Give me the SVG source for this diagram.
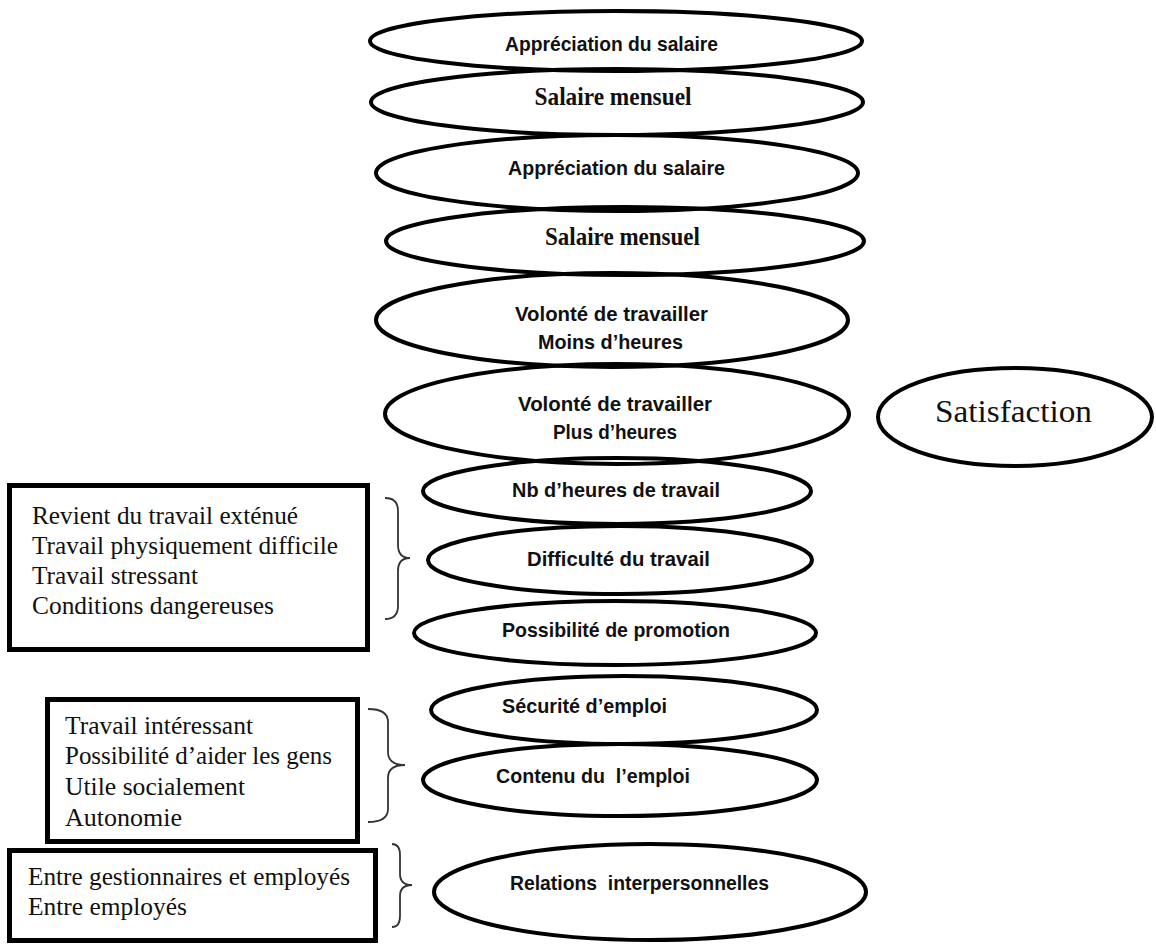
<svg xmlns="http://www.w3.org/2000/svg" width="1156" height="945" viewBox="0 0 1156 945">
<style>
.el{fill:none;stroke:#000;stroke-width:4}
.bx{fill:none;stroke:#000;stroke-width:5}
.br{fill:none;stroke:#333;stroke-width:1.8}
.ts{font-family:"Liberation Sans",Arial,sans-serif;font-weight:bold;font-size:21px;fill:#111;text-anchor:middle}
.tb{font-family:"Liberation Serif","Times New Roman",serif;font-weight:bold;font-size:25px;fill:#111;text-anchor:middle}
.tr{font-family:"Liberation Serif","Times New Roman",serif;font-size:25px;fill:#111}
.tsat{font-family:"Liberation Serif","Times New Roman",serif;font-size:32px;fill:#111;text-anchor:middle}
</style>
<rect width="1156" height="945" fill="#fff"/>
<g id="connectors">
<path class="br" d="M385,498 Q398,498 398,511 L398,545 Q398,558 410,558 Q398,558 398,571 L398,606 Q398,619 385,619"/>
<path class="br" d="M368,709 Q388,709 388,722 L388,752 Q388,765 405,765 Q388,765 388,778 L388,809 Q388,822 368,822"/>
<path class="br" d="M392,844 Q400,844 400,855 L400,874 Q400,885 412,885 Q400,885 400,896 L400,916 Q400,927 392,927"/>
</g>
<g id="n1"><ellipse class="el" cx="616" cy="41" rx="246" ry="30"/><text class="ts" x="611.5" y="51" textLength="213" lengthAdjust="spacingAndGlyphs">Appréciation du salaire</text></g>
<g id="n2"><ellipse class="el" cx="617" cy="102" rx="246" ry="33"/><text class="tb" x="613" y="105" textLength="157" lengthAdjust="spacingAndGlyphs">Salaire mensuel</text></g>
<g id="n3"><ellipse class="el" cx="617" cy="173" rx="241" ry="38"/><text class="ts" x="616.5" y="175" textLength="217" lengthAdjust="spacingAndGlyphs">Appréciation du salaire</text></g>
<g id="n4"><ellipse class="el" cx="625" cy="241" rx="239" ry="34"/><text class="tb" x="622.5" y="245" textLength="155" lengthAdjust="spacingAndGlyphs">Salaire mensuel</text></g>
<g id="n5"><ellipse class="el" cx="612" cy="320" rx="236" ry="47"/><text class="ts" x="611.5" y="321" textLength="193" lengthAdjust="spacingAndGlyphs">Volonté de travailler</text><text class="ts" x="610.5" y="349" textLength="145" lengthAdjust="spacingAndGlyphs">Moins d’heures</text></g>
<g id="n6"><ellipse class="el" cx="617" cy="414" rx="232" ry="50"/><text class="ts" x="615" y="411" textLength="194" lengthAdjust="spacingAndGlyphs">Volonté de travailler</text><text class="ts" x="615" y="439" textLength="124" lengthAdjust="spacingAndGlyphs">Plus d’heures</text></g>
<g id="n7"><ellipse class="el" cx="617" cy="491" rx="194" ry="33"/><text class="ts" x="616" y="497" textLength="208" lengthAdjust="spacingAndGlyphs">Nb d’heures de travail</text></g>
<g id="n8"><ellipse class="el" cx="620" cy="560" rx="192" ry="34"/><text class="ts" x="618.5" y="566" textLength="183" lengthAdjust="spacingAndGlyphs">Difficulté du travail</text></g>
<g id="n9"><ellipse class="el" cx="615" cy="633" rx="201" ry="32"/><text class="ts" x="616" y="637" textLength="228" lengthAdjust="spacingAndGlyphs">Possibilité de promotion</text></g>
<g id="n10"><ellipse class="el" cx="624" cy="710" rx="193" ry="34"/><text class="ts" x="584.5" y="713" textLength="165" lengthAdjust="spacingAndGlyphs">Sécurité d’emploi</text></g>
<g id="n11"><ellipse class="el" cx="620" cy="780" rx="197" ry="36"/><text class="ts" x="593" y="783" textLength="194" lengthAdjust="spacingAndGlyphs" xml:space="preserve">Contenu du  l’emploi</text></g>
<g id="n12"><ellipse class="el" cx="650" cy="892" rx="216" ry="48"/><text class="ts" x="639.5" y="890" textLength="259" lengthAdjust="spacingAndGlyphs" xml:space="preserve">Relations  interpersonnelles</text></g>
<g id="satisfaction"><ellipse class="el" cx="1015" cy="417" rx="137" ry="49"/><text class="tsat" x="1013.5" y="422" textLength="157" lengthAdjust="spacingAndGlyphs">Satisfaction</text></g>
<g id="box1"><rect class="bx" x="9.5" y="485.5" width="358" height="164"/>
<text class="tr" x="32" y="524" textLength="266" lengthAdjust="spacingAndGlyphs">Revient du travail exténué</text>
<text class="tr" x="32" y="554" textLength="306" lengthAdjust="spacingAndGlyphs">Travail physiquement difficile</text>
<text class="tr" x="32" y="584" textLength="166" lengthAdjust="spacingAndGlyphs">Travail stressant</text>
<text class="tr" x="32" y="614" textLength="242" lengthAdjust="spacingAndGlyphs">Conditions dangereuses</text></g>
<g id="box2"><rect class="bx" x="47.5" y="699.5" width="310" height="142"/>
<text class="tr" x="65" y="734" textLength="188" lengthAdjust="spacingAndGlyphs">Travail intéressant</text>
<text class="tr" x="65" y="764" textLength="267" lengthAdjust="spacingAndGlyphs">Possibilité d’aider les gens</text>
<text class="tr" x="65" y="795" textLength="180" lengthAdjust="spacingAndGlyphs">Utile socialement</text>
<text class="tr" x="65" y="826" textLength="117" lengthAdjust="spacingAndGlyphs">Autonomie</text></g>
<g id="box3"><rect class="bx" x="9.5" y="850.5" width="366" height="90"/>
<text class="tr" x="28" y="885" textLength="322" lengthAdjust="spacingAndGlyphs">Entre gestionnaires et employés</text>
<text class="tr" x="28" y="915" textLength="159" lengthAdjust="spacingAndGlyphs">Entre employés</text></g>
</svg>
